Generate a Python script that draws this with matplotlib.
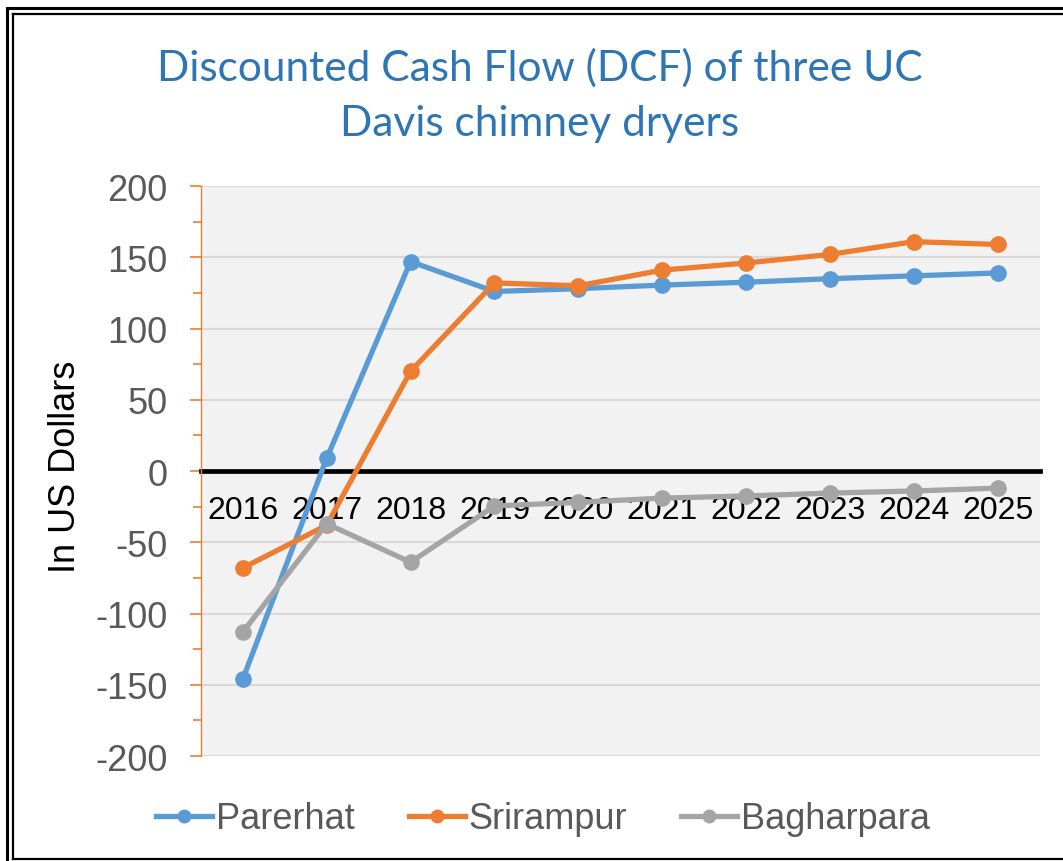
import matplotlib
matplotlib.use("Agg")
import matplotlib.pyplot as plt
from matplotlib.lines import Line2D
from matplotlib.ticker import MultipleLocator

years = ["2016", "2017", "2018", "2019", "2020", "2021", "2022", "2023", "2024", "2025"]
parerhat = [-146, 9, 147, 126, 128, 130.5, 132.5, 135, 137, 139]
srirampur = [-68, -38, 70, 132, 130, 141, 146, 152, 161, 159]
bagharpara = [-113, -37, -64, -24.5, -22, -19, -17.5, -15.5, -14, -12]

series = [("Parerhat", parerhat, "#5B9BD5"),
          ("Srirampur", srirampur, "#ED7D31"),
          ("Bagharpara", bagharpara, "#A5A5A5")]

plt.rcParams['font.family'] = ['Liberation Sans', 'DejaVu Sans']
plt.rcParams['axes.unicode_minus'] = False

fig = plt.figure(figsize=(10.63, 8.62), dpi=100)
ax = fig.add_axes([0.189, 0.1218, 0.789, 0.6612])
ax.set_facecolor("#F2F2F2")

x = list(range(len(years)))
for name, vals, col in series:
    ax.plot(x, vals, color=col, lw=3.8, marker="o", ms=11, label=name,
            solid_capstyle="round", zorder=3)

ax.set_xlim(-0.5, len(years) - 0.5)
ax.set_ylim(-200, 200)
ax.yaxis.set_major_locator(MultipleLocator(50))
ax.yaxis.set_minor_locator(MultipleLocator(25))
ax.grid(axis="y", which="major", color="#D9D9D9", lw=1.5, zorder=0)
ax.set_axisbelow(True)

for s in ["top", "right"]:
    ax.spines[s].set_visible(False)
ax.spines["left"].set_color("#ED7D31")
ax.spines["left"].set_linewidth(1.0)
ax.spines["bottom"].set_position(("data", 0))
ax.spines["bottom"].set_color("black")
ax.spines["bottom"].set_linewidth(3.4)
ax.spines["bottom"].set_zorder(2)

ax.set_xticks(x)
ax.set_xticklabels(years, fontsize=23, color="black")
ax.tick_params(axis="x", length=0, pad=17)
ax.tick_params(axis="y", which="major", length=8, width=1.2, color="#ED7D31",
               labelsize=26, labelcolor="#595959", pad=16)
ax.tick_params(axis="y", which="minor", length=6, width=1.2, color="#ED7D31")
for lbl in ax.get_xticklabels():
    lbl.set_zorder(1)

ax.set_ylabel("In US Dollars", fontsize=26, color="black")
ax.yaxis.set_label_coords(-0.162, 0.51)
ax.yaxis.label.set_verticalalignment("center")

fig.text(0.508, 0.889, "Discounted Cash Flow (DCF) of three UC\nDavis chimney dryers",
         ha="center", va="center", fontsize=30.5, color="#2E75B6",
         family=["Lato", "DejaVu Sans"], linespacing=1.55)

handles = [Line2D([0], [0], color=c, lw=3.8, marker="o", ms=9) for _, _, c in series]
fig.legend(handles, [n for n, _, _ in series], loc="center",
           bbox_to_anchor=(0.511, 0.049), ncol=3, frameon=False,
           fontsize=26, labelcolor="#595959", handlelength=1.55,
           handletextpad=0.1, columnspacing=1.5)

# double frame
W, H = 1063, 862
def fl(x0, y0, x1, y1, lw):
    fig.add_artist(Line2D([x0 / W, x1 / W], [1 - y0 / H, 1 - y1 / H],
                          transform=fig.transFigure, color="black", lw=lw))
fl(7, 9, 7, 862, 2.2)
fl(7, 9, 1063, 9, 2.2)
fl(13, 15, 13, 860, 1.6)
fl(13, 15, 1063, 15, 1.6)
fl(13, 860, 1063, 860, 1.6)

fig.savefig("out.png", dpi=100)
